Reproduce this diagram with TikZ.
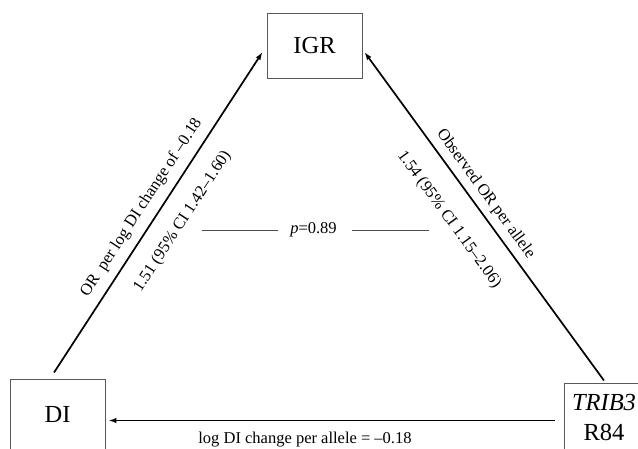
\documentclass[tikz,border=0pt]{standalone}
\usepackage{fontspec}
\setmainfont{Liberation Serif}
\usetikzlibrary{arrows.meta,calc}
\begin{document}
\begin{tikzpicture}[x=1pt,y=-1pt,
  box/.style={draw=black!65,line width=0.9pt,inner sep=0pt,font=\fontsize{24.5}{30}\selectfont,align=center},
  conn/.style={line width=1.7pt,-{Latex[length=8pt,width=5.5pt]}},
  lab/.style={font=\fontsize{16.5}{19}\selectfont,inner sep=0pt},
  pline/.style={draw=black!70,line width=0.9pt}]
\useasboundingbox (0,0) rectangle (638,448);
\begin{scope}
\clip (0,0) rectangle (638,448);
\node[box,minimum width=95pt,minimum height=65pt] (igr) at (314.5,45.5) {IGR};
\node[box,minimum width=95pt,minimum height=70pt] (di) at (57.5,414) {DI};
\node[box,minimum width=80pt,minimum height=69pt] (trib) at (604,417.5) {\textit{TRIB3}\\R84};
\draw[conn] ([shift={(-3.5,-6)}]di.north) -- ([shift={(-4,6.5)}]igr.west);
\draw[conn] ([shift={(0,-2)}]trib.north) -- ([shift={(2,6.5)}]igr.east);
\draw[conn] ([shift={(-9,3)}]trib.west) -- ([shift={(3,6.5)}]di.east);
\node[lab,rotate=56.93] (l1) at (141.5,207.5) {OR\ \ per log DI change of –0.18};
\node[lab,rotate=56.93] (l2) at (182.5,221.5) {1.51 (95\% CI 1.42–1.60)};
\node[lab,rotate=-53.89] (l3) at (485.5,194) {Observed OR per allele};
\node[lab,rotate=-53.89] (l4) at (449,219.5) {1.54 (95\% CI 1.15–2.06)};
\node[lab] (p) at (313.5,230) {\textit{p}=0.89};
\coordinate (pa) at (202,230);
\coordinate (pb) at (278,230);
\coordinate (pc) at (352,230);
\coordinate (pd) at (429,230);
\draw[pline] (pa) -- (pb);
\draw[pline] (pc) -- (pd);
\node[lab,anchor=base] (bl) at (305,443) {log DI change per allele = –0.18};
\end{scope}
\end{tikzpicture}
\end{document}
